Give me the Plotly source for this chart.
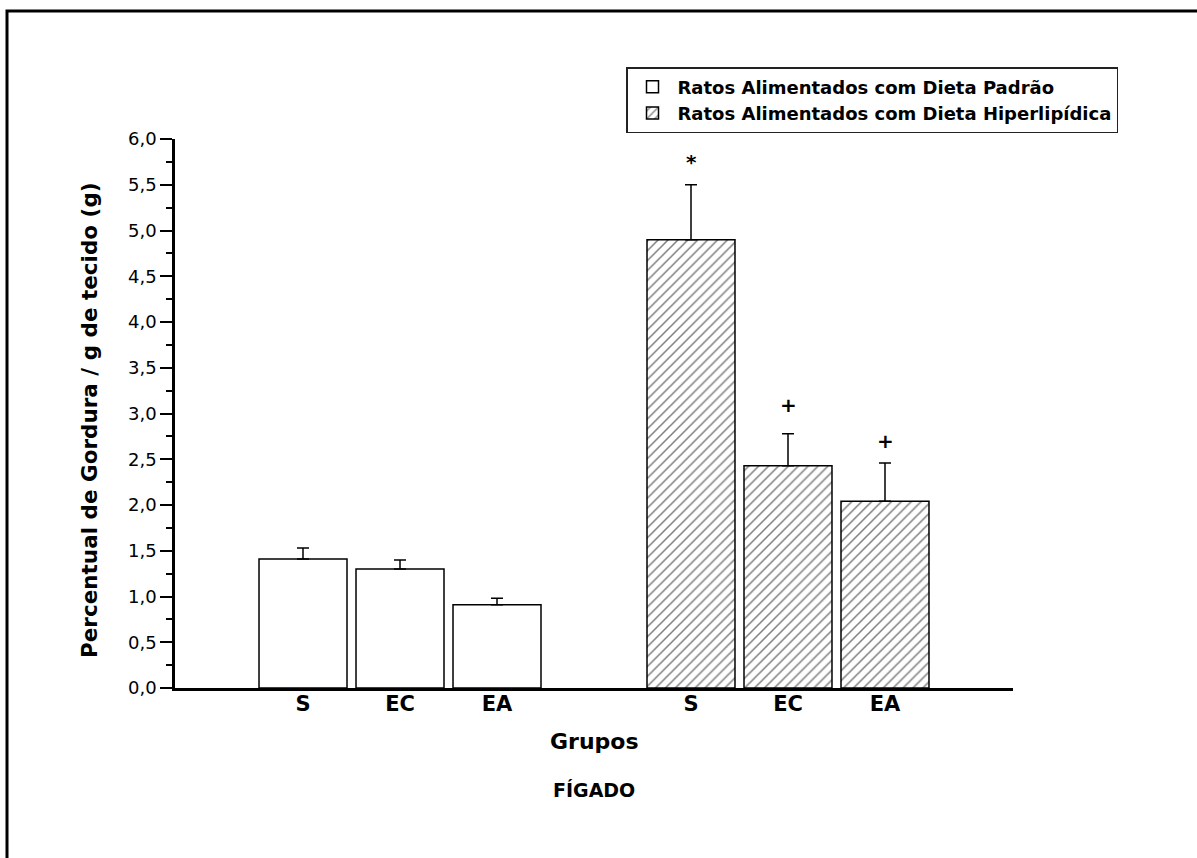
import plotly.graph_objects as go

# ---- data ----
groups = ["Ratos Alimentados com Dieta Padrão", "Ratos Alimentados com Dieta Hiperlipídica"]
subgroups = ["S", "EC", "EA"]
padrao_vals = [1.41, 1.30, 0.91]
padrao_err = [0.12, 0.10, 0.07]
hiper_vals = [4.90, 2.43, 2.04]
hiper_err = [0.60, 0.35, 0.42]
hiper_marks = ["*", "+", "+"]
hiper_mark_y = [5.75, 3.09, 2.70]
y_ticks = [0, 0.5, 1.0, 1.5, 2.0, 2.5, 3.0, 3.5, 4.0, 4.5, 5.0, 5.5, 6.0]

# ---- layout helpers ----
W, H = 1197, 858
L, R, T, B = 175, 1197 - 1013, 139, 858 - 688
pw, ph = W - L - R, H - T - B
group_centers = [0.537, 1.463]
step = 0.2315
bar_w = 0.21
FONT = "DejaVu Sans, Arial, sans-serif"


def px_x(p):
    return (p - L) / pw


def px_y(p):
    return (H - B - p) / ph


def positions(g):
    return [group_centers[g] + (i - 1) * step for i in range(len(subgroups))]


def bold(size):
    return dict(family=FONT, size=size, color="black", weight="bold")


fig = go.Figure()
fig.add_trace(go.Bar(
    x=positions(0), y=padrao_vals, width=bar_w, name=groups[0],
    marker=dict(color="white", line=dict(color="black", width=1.5)),
    error_y=dict(type="data", symmetric=False, array=padrao_err,
                 arrayminus=[0] * 3, color="black", thickness=1.5, width=6),
))
fig.add_trace(go.Bar(
    x=positions(1), y=hiper_vals, width=bar_w, name=groups[1],
    marker=dict(color="white", line=dict(color="black", width=1.5),
                pattern=dict(shape="/", fgcolor="black", bgcolor="white",
                             size=7, solidity=0.22)),
    error_y=dict(type="data", symmetric=False, array=hiper_err,
                 arrayminus=[0] * 3, color="black", thickness=1.5, width=6),
))

annotations = []
for xv, yv, m in zip(positions(1), hiper_mark_y, hiper_marks):
    annotations.append(dict(x=xv, y=yv, xref="x", yref="y", text=m,
                            showarrow=False, yanchor="middle", xanchor="center",
                            font=bold(20)))

annotations += [
    dict(x=px_x(89), y=px_y(420), xref="paper", yref="paper", textangle=-90,
         xanchor="center", yanchor="middle",
         text="Percentual de Gordura / g de tecido (g)", showarrow=False,
         font=bold(21.5)),
    dict(x=0.5, y=px_y(741), xref="paper", yref="paper", text="Grupos",
         xanchor="center", yanchor="middle", showarrow=False, font=bold(22)),
    dict(x=0.5, y=px_y(790), xref="paper", yref="paper", text="FÍGADO",
         xanchor="center", yanchor="middle", showarrow=False, font=bold(19)),
]

tickvals_x = positions(0) + positions(1)
ticktext_x = subgroups + subgroups

fig.update_layout(
    width=W, height=H,
    margin=dict(l=L, r=R, t=T, b=B),
    paper_bgcolor="white", plot_bgcolor="white",
    separators=",.",
    barmode="overlay",
    font=dict(family=FONT, color="black"),
    xaxis=dict(range=[0, 2], tickvals=tickvals_x, ticktext=ticktext_x,
               ticks="", showgrid=False, zeroline=False, ticklabelstandoff=-5,
               showline=True, linecolor="black", linewidth=2.5,
               tickfont=bold(21)),
    xaxis2=dict(range=[0, 2], overlaying="x", anchor="y", tickvals=[0, 1, 2],
                ticks="outside", ticklen=8, tickwidth=2.5, tickcolor="black",
                showticklabels=False, showgrid=False, zeroline=False, showline=False),
    yaxis=dict(range=[0, 6], tickvals=y_ticks, tickformat=".1f",
               ticks="outside", ticklen=12, tickwidth=2, tickcolor="black",
               minor=dict(dtick=0.25, ticks="outside", ticklen=6, tickwidth=2, tickcolor="black"),
               showgrid=False, zeroline=False,
               showline=True, linecolor="black", linewidth=2.5,
               tickfont=dict(family=FONT, size=18, color="black")),
    legend=dict(x=px_x(1118), y=px_y(67), xanchor="right", yanchor="top",
                bgcolor="white", bordercolor="#222", borderwidth=1.5,
                font=bold(18), itemwidth=40, tracegroupgap=0),
    annotations=annotations,
    shapes=[dict(type="rect", xref="paper", yref="paper",
                 x0=px_x(7), x1=px_x(1260), y0=px_y(11), y1=px_y(920),
                 line=dict(color="black", width=3), fillcolor="rgba(0,0,0,0)", layer="below")],
)

fig.write_html("out.html")
